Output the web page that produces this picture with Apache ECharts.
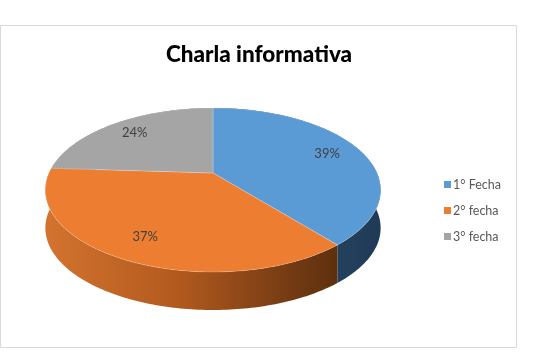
<!DOCTYPE html>
<html><head><meta charset="utf-8">
<script src="https://cdn.jsdelivr.net/npm/echarts@6/dist/echarts.min.js"></script>
<style>html,body{margin:0;padding:0;background:#fff}#c{width:539px;height:353px}</style>
</head><body><div id="c"></div>
<script>
const title = 'Charla informativa';
const categories = ['1° Fecha', '2° fecha', '3° fecha'];
const values = [39, 37, 24];
const labels = ['39%', '37%', '24%'];
const topColors = ['#5B9BD5', '#ED7D31', '#A5A5A5'];

const chart = echarts.init(document.getElementById('c'), null, {renderer: 'canvas'});
const total = values.reduce((a, b) => a + b, 0);
const starts = [];
let acc = 0;
values.forEach(v => { starts.push(acc / total * Math.PI * 2); acc += v; });

const G = {cx: 213, cy: 173, rx: 164, ry: 78.5, p: 0.207, depth: 38};
function proj(th, r, dy) {
  const u = r * Math.sin(th), v = -r * Math.cos(th);
  const f = 1 / (1 - G.p * v);
  return [G.cx + G.rx * u * f, G.cy + G.ry * v * f + (dy || 0)];
}
function arc(a0, a1, dy) {
  const pts = [];
  const n = Math.max(2, Math.ceil((a1 - a0) / (Math.PI / 180)));
  for (let i = 0; i <= n; i++) pts.push(proj(a0 + (a1 - a0) * i / n, 1, dy));
  return pts;
}
const sideFills = [
  new echarts.graphic.LinearGradient(0, 0, 1, 0, [{offset: 0, color: '#2F5577'}, {offset: 1, color: '#1F3A56'}]),
  new echarts.graphic.LinearGradient(0, 0, 1, 0, [{offset: 0, color: '#D3732F'}, {offset: 0.45, color: '#B25A1E'}, {offset: 0.85, color: '#723A12'}, {offset: 1, color: '#5E300E'}]),
  '#7C7C7C'
];

const series = categories.map((name, i) => ({
  type: 'custom',
  name: name,
  coordinateSystem: 'none',
  itemStyle: {color: topColors[i]},
  data: [values[i]],
  renderItem: function (params, api) {
    const a0 = starts[i];
    const a1 = a0 + api.value(0) / total * Math.PI * 2;
    const top = [[G.cx, G.cy]].concat(arc(a0, a1, 0));
    const side = arc(a0, a1, 0).concat(arc(a0, a1, G.depth).reverse());
    const mid = (a0 + a1) / 2;
    const lp = proj(mid, 0.78, 0);
    return {
      type: 'group',
      children: [
        {type: 'polygon', z2: 1, shape: {points: side}, style: {fill: sideFills[i], stroke: null}},
        {type: 'polygon', z2: 10, shape: {points: top}, style: {fill: topColors[i], stroke: 'rgba(255,255,255,0.35)', lineWidth: 0.6}},
        {type: 'text', z2: 20, x: lp[0], y: lp[1], style: {text: labels[i], fill: '#404040', font: '13px Lato, "Open Sans", sans-serif', align: 'center', verticalAlign: 'middle'}}
      ]
    };
  }
}));

chart.setOption({
  animation: false,
  title: {text: title, left: 254, top: 38, textAlign: 'center',
    textStyle: {fontFamily: 'Lato, "Open Sans", sans-serif', fontWeight: 900, fontSize: 22.5, color: '#000'}},
  legend: {orient: 'vertical', left: 439, top: 173, icon: 'rect', itemWidth: 7, itemHeight: 7, itemGap: 13,
    data: categories,
    textStyle: {fontFamily: 'Lato, "Open Sans", sans-serif', fontSize: 12.5, color: '#595959', padding: [0, 0, 0, -3]}},
  graphic: [{type: 'rect', shape: {x: 0.5, y: 25.5, width: 516, height: 322}, style: {fill: null, stroke: '#D9D9D9', lineWidth: 1}, z: -1}],
  series: series
});
</script></body></html>
